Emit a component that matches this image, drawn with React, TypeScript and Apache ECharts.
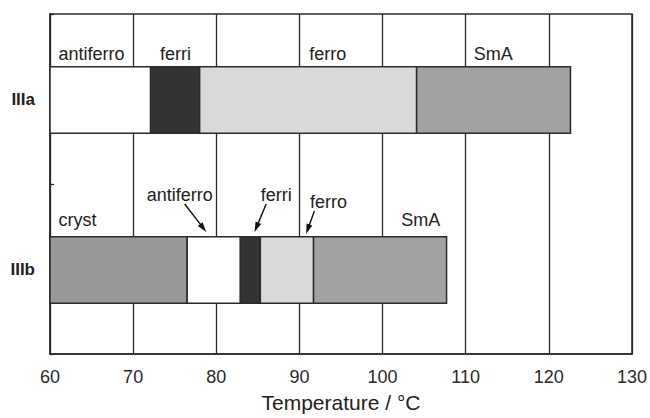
import React, { useEffect, useRef } from 'react';
import * as echarts from 'echarts';

// ---------------- data ----------------
const categories = ['IIIa', 'IIIb'];

const phasesIIIa = ['antiferro', 'ferri', 'ferro', 'SmA'];
const transitionsIIIa = [60, 72.1, 78.0, 104.1, 122.6];

const phasesIIIb = ['cryst', 'antiferro', 'ferri', 'ferro', 'SmA'];
const transitionsIIIb = [60, 76.5, 82.9, 85.3, 91.7, 107.7];

// temperature at which each phase label is centred
const labelTempsIIIa = [65.0, 75.1, 93.4, 113.3];
const labelTempsIIIb = [63.3, 75.6, 87.2, 93.5, 104.6];

// arrows pointing from a label to its (narrow) phase, IIIb
const arrowPhasesIIIb = ['antiferro', 'ferri', 'ferro'];
const arrowFromIIIb = [76.2, 86.0, 91.8];
const arrowToIIIb = [78.8, 84.6, 90.8];

const xMin = 60;
const xMax = 130;
const xStep = 10;
const xTitle = 'Temperature / °C';

// ---------------- styles / layout ----------------
const phaseColors: Record<string, string> = {
  antiferro: '#ffffff',
  ferri: '#333333',
  ferro: '#d9d9d9',
  SmA: '#a2a2a2',
  cryst: '#989898',
};
const FONT = '"Liberation Sans", Arial, Helvetica, sans-serif';
const INK = '#2b2b2b';
// vertical placement of labels, px above the bar centre
const labelRiseIIIa = [45, 45, 45, 45];
const labelRiseIIIb = [49, 74, 74, 67, 49];
const arrowTailRise = [65, 65, 58];
const arrowHeadRise = [37, 37, 35];

type Seg = { start: number; end: number; cat: number; phase: string };
const segments: Seg[] = [];
phasesIIIa.forEach((p, i) =>
  segments.push({ start: transitionsIIIa[i], end: transitionsIIIa[i + 1], cat: 0, phase: p })
);
phasesIIIb.forEach((p, i) =>
  segments.push({ start: transitionsIIIb[i], end: transitionsIIIb[i + 1], cat: 1, phase: p })
);

type Lab = { t: number; cat: number; text: string; rise: number };
const labels: Lab[] = [];
phasesIIIa.forEach((p, i) => labels.push({ t: labelTempsIIIa[i], cat: 0, text: p, rise: labelRiseIIIa[i] }));
phasesIIIb.forEach((p, i) => labels.push({ t: labelTempsIIIb[i], cat: 1, text: p, rise: labelRiseIIIb[i] }));

type Arr = { from: number; to: number; cat: number; tail: number; head: number };
const arrows: Arr[] = arrowPhasesIIIb.map((_, i) => ({
  from: arrowFromIIIb[i],
  to: arrowToIIIb[i],
  cat: 1,
  tail: arrowTailRise[i],
  head: arrowHeadRise[i],
}));

export default function App() {
  const ref = useRef<HTMLDivElement>(null);

  useEffect(() => {
    if (!ref.current) return;
    const chart = echarts.init(ref.current, null, { renderer: 'svg' });

    const option: any = {
      animation: false,
      backgroundColor: '#ffffff',
      grid: {
        left: 50,
        right: 17,
        top: 14,
        bottom: 56,
        show: true,
        borderColor: INK,
        borderWidth: 1.5,
        containLabel: false,
      },
      xAxis: {
        type: 'value',
        min: xMin,
        max: xMax,
        interval: xStep,
        axisLine: { show: true, lineStyle: { color: INK, width: 1.5 } },
        axisTick: { show: false },
        splitLine: { show: true, lineStyle: { color: INK, width: 1.3 } },
        axisLabel: { color: '#2a2a2a', fontSize: 18, fontFamily: FONT, margin: 14 },
        name: xTitle,
        nameLocation: 'middle',
        nameGap: 38,
        nameTextStyle: { color: '#222', fontSize: 21, fontFamily: FONT },
      },
      yAxis: {
        type: 'category',
        data: categories,
        inverse: true,
        axisLine: { show: true, lineStyle: { color: INK, width: 1.5 } },
        axisTick: { show: true, inside: true, length: 4, lineStyle: { color: INK, width: 1.3 } },
        splitLine: { show: false },
        axisLabel: { color: '#222', fontSize: 17, fontWeight: 'bold', fontFamily: FONT, margin: 15 },
      },
      series: [
        {
          type: 'custom',
          name: 'phases',
          encode: { x: [0, 1], y: 2 },
          data: segments.map((s) => [s.start, s.end, s.cat]),
          renderItem: (params: any, api: any) => {
            const seg = segments[params.dataIndex];
            const a = api.coord([api.value(0), api.value(2)]);
            const b = api.coord([api.value(1), api.value(2)]);
            const h = api.size([0, 1])[1] * 0.39;
            return {
              type: 'rect',
              shape: { x: a[0], y: a[1] - h / 2 + 1, width: b[0] - a[0], height: h },
              style: { fill: phaseColors[seg.phase], stroke: INK, lineWidth: 1.5 },
            };
          },
          z: 3,
        },
        {
          type: 'custom',
          name: 'labels',
          encode: { x: 0, y: 1 },
          data: labels.map((l) => [l.t, l.cat]),
          renderItem: (params: any, api: any) => {
            const l = labels[params.dataIndex];
            const p = api.coord([api.value(0), api.value(1)]);
            return {
              type: 'text',
              x: p[0],
              y: p[1] - l.rise,
              style: {
                text: l.text,
                fill: '#222',
                fontSize: 18,
                fontFamily: FONT,
                align: 'center',
                verticalAlign: 'middle',
              },
            };
          },
          z: 4,
        },
        {
          type: 'custom',
          name: 'arrows',
          encode: { x: [0, 1], y: 2 },
          data: arrows.map((a) => [a.from, a.to, a.cat]),
          renderItem: (params: any, api: any) => {
            const ar = arrows[params.dataIndex];
            const c0 = api.coord([api.value(0), api.value(2)]);
            const c1 = api.coord([api.value(1), api.value(2)]);
            const tx = c0[0];
            const ty = c0[1] - ar.tail;
            const hx = c1[0];
            const hy = c1[1] - ar.head;
            const dx = hx - tx;
            const dy = hy - ty;
            const len = Math.sqrt(dx * dx + dy * dy) || 1;
            const ux = dx / len;
            const uy = dy / len;
            const hl = 10;
            const hw = 3;
            const bx = hx - ux * hl;
            const by = hy - uy * hl;
            return {
              type: 'group',
              children: [
                {
                  type: 'line',
                  shape: { x1: tx, y1: ty, x2: bx + ux * 2, y2: by + uy * 2 },
                  style: { stroke: '#111', lineWidth: 1.4 },
                },
                {
                  type: 'polygon',
                  shape: {
                    points: [
                      [hx, hy],
                      [bx - uy * hw, by + ux * hw],
                      [bx + uy * hw, by - ux * hw],
                    ],
                  },
                  style: { fill: '#111', stroke: 'none' },
                },
              ],
            };
          },
          z: 5,
        },
      ],
    };

    chart.setOption(option);
    return () => {
      chart.dispose();
    };
  }, []);

  return (
    <div
      ref={ref}
      style={{ position: 'fixed', left: 0, top: 0, width: 650, height: 418, background: '#fff' }}
    />
  );
}
